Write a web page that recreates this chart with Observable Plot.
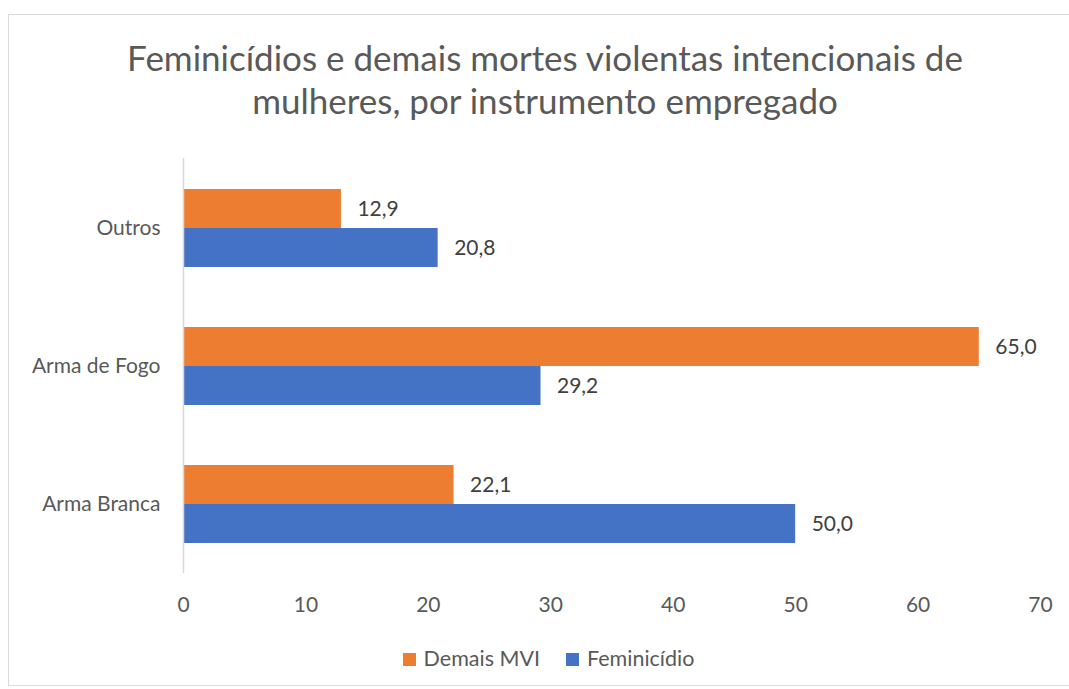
<!DOCTYPE html>
<html>
<head>
<meta charset="utf-8">
<script src="https://cdn.jsdelivr.net/npm/d3@7"></script>
<script src="https://cdn.jsdelivr.net/npm/@observablehq/plot@0.6"></script>
<style>
  html, body { margin: 0; padding: 0; background: #fff; }
  #wrap { position: relative; width: 1069px; height: 689px; overflow: hidden; font-family: Lato, "Open Sans", sans-serif; }
  #border { position: absolute; left: 8px; top: 14px; width: 1080px; height: 672px; border: 1px solid #D9D9D9; box-sizing: border-box; }
  #title { position: absolute; left: 0; top: 36px; width: 1090px; text-align: center; font-size: 35px; line-height: 43px; color: #595959; }
  #chart { position: absolute; left: 0; top: 140px; }
  #legend { position: absolute; left: 0; top: 645px; width: 1097px; text-align: center; font-size: 21.5px; color: #595959; }
  .sw { display: inline-block; width: 13px; height: 13px; margin-right: 8px; vertical-align: 0px; }
  .item { margin: 0 13px; }
</style>
</head>
<body>
<div id="wrap">
  <div id="border"></div>
  <div id="title">Feminicídios e demais mortes violentas intencionais de<br>mulheres, por instrumento empregado</div>
  <div id="chart"></div>
  <div id="legend"></div>
</div>
<script>
const categories = ["Outros", "Arma de Fogo", "Arma Branca"];
const series = ["Demais MVI", "Feminicídio"];
const demaisMVI = [12.9, 65.0, 22.1];
const feminicidio = [20.8, 29.2, 50.0];
const xTicks = [0, 10, 20, 30, 40, 50, 60, 70];
const colors = ["#ED7D31", "#4472C4"];

const rows = [];
categories.forEach((c, i) => {
  rows.push({category: c, series: series[0], value: demaisMVI[i]});
  rows.push({category: c, series: series[1], value: feminicidio[i]});
});
const fmt = v => v.toFixed(1).replace(".", ",");
const upperRows = rows.filter(d => d.series === series[0]);
const lowerRows = rows.filter(d => d.series === series[1]);

const half = 39;
const chart = Plot.plot({
  width: 1069,
  height: 490,
  marginLeft: 183,
  marginRight: 29,
  marginTop: 18,
  marginBottom: 57,
  style: {fontFamily: "Lato, 'Open Sans', sans-serif", fontSize: "21px", color: "#595959", background: "transparent"},
  x: {domain: [0, 70], ticks: xTicks, tickSize: 0, tickPadding: 24, label: null, tickFormat: d => String(d)},
  y: {domain: categories, paddingInner: 0.436, paddingOuter: 0.218, tickSize: 0, tickPadding: 23, label: null},
  color: {domain: series, range: colors},
  marks: [
    Plot.barX(upperRows, {x: "value", y: "category", fill: "series", insetBottom: half}),
    Plot.barX(lowerRows, {x: "value", y: "category", fill: "series", insetTop: half}),
    Plot.ruleX([0], {stroke: "#D9D9D9", strokeWidth: 1.5}),
    Plot.text(upperRows, {x: "value", y: "category", text: d => fmt(d.value), textAnchor: "start", dx: 16, dy: -half / 2, fill: "#404040", fontSize: 21}),
    Plot.text(lowerRows, {x: "value", y: "category", text: d => fmt(d.value), textAnchor: "start", dx: 16, dy: half / 2, fill: "#404040", fontSize: 21})
  ]
});
document.getElementById("chart").appendChild(chart);

const legend = document.getElementById("legend");
legend.innerHTML = series.map((s, i) =>
  `<span class="item"><span class="sw" style="background:${colors[i]}"></span>${s}</span>`).join("");
</script>
</body>
</html>
